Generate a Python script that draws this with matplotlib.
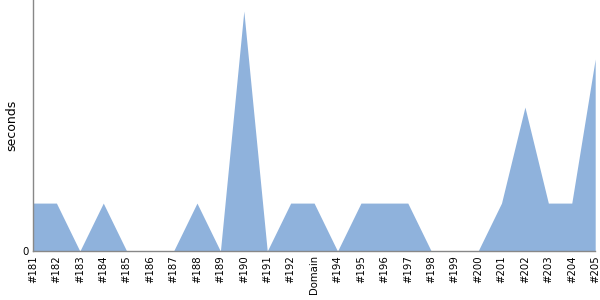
import numpy as np
import matplotlib.pyplot as plt

labels = ["#181", "#182", "#183", "#184", "#185", "#186", "#187", "#188",
          "#189", "#190", "#191", "#192", "Domain", "#194", "#195", "#196",
          "#197", "#198", "#199", "#200", "#201", "#202", "#203", "#204", "#205"]
seconds = [1, 1, 0, 1, 0, 0, 0, 1, 0, 5, 0, 1, 1, 0, 1, 1, 1, 0, 0, 0, 1, 3, 1, 1, 4]

fig = plt.figure(figsize=(6, 3), dpi=100)
ax = fig.add_axes([0.055, 0.163, 0.937, 0.837])

x = np.arange(len(labels))
ax.fill_between(x, seconds, 0, color="#8fb2dc", linewidth=0)

ax.set_xlim(0, len(labels) - 1)
ax.set_ylim(0, 5.23)
ax.set_xticks(x)
ax.set_xticklabels(labels, rotation=90, fontsize=7.3)
ax.set_yticks([0])
ax.set_yticklabels(["0"], fontsize=7.3)
ax.tick_params(length=0, pad=3)
ax.set_ylabel("seconds", fontsize=9, labelpad=3)

for s in ["top", "right"]:
    ax.spines[s].set_visible(False)
for s in ["left", "bottom"]:
    ax.spines[s].set_color("#888888")
    ax.spines[s].set_linewidth(1)

fig.savefig("out.png", dpi=100)
